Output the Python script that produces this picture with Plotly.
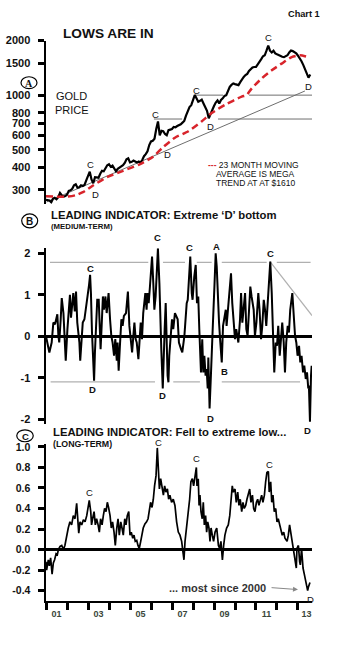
import math
import plotly.graph_objects as go

# ---------------- DATA ----------------
# Gold price, monthly (Jan 2001 .. Aug 2013), US$/oz
gold_price = [
    264, 262, 262, 256, 268, 271, 266, 273, 288, 280, 275, 277,
    282, 296, 298, 304, 318, 322, 308, 310, 318, 315, 319, 338,
    362, 378, 342, 326, 352, 352, 350, 368, 382, 380, 392, 410,
    415, 402, 408, 395, 380, 392, 398, 404, 410, 422, 442, 448,
    425, 428, 435, 430, 425, 430, 425, 438, 460, 472, 490, 530,
    555, 560, 575, 650, 715, 600, 635, 632, 610, 600, 640, 645,
    650, 668, 665, 675, 680, 690, 705, 720, 770, 810, 860, 880,
    940, 1000, 960, 920, 930, 945, 900, 860, 820, 745, 790, 840,
    870, 910, 935, 900, 940, 960, 990, 1000, 1060, 1110, 1140, 1160,
    1150, 1140, 1135, 1180, 1230, 1260, 1290, 1310, 1360, 1400, 1420, 1430,
    1432, 1480, 1520, 1580, 1640, 1660, 1760, 1880, 1760, 1720, 1760, 1700,
    1680, 1660, 1650, 1630, 1620, 1640, 1660, 1720, 1762, 1750, 1730, 1700,
    1650, 1600, 1540, 1470, 1400, 1320, 1250, 1300,
]
gold_years = [2001 + i / 12 for i in range(len(gold_price))]

# 23-month moving average
ma_years = [2001.0, 2001.5, 2002.0, 2002.4, 2002.76, 2003.24, 2003.9, 2004.67, 2005.48,
            2006.1, 2006.57, 2007.14, 2007.78, 2008.41, 2008.89, 2009.52, 2010.32,
            2010.55, 2010.8, 2011.27, 2011.75, 2012.22, 2012.7, 2013.1, 2013.57]
ma_values = [276, 275, 275, 280, 291, 317, 352, 382, 416,
             457, 515, 582, 632, 716, 796, 883, 981,
             1000, 1090, 1236, 1371, 1493, 1622, 1660, 1610]

# Medium-term leading indicator
medium = [
    (2001.00, 0.00), (2001.03, -0.07), (2001.16, -0.39), (2001.27, -0.15), (2001.35, 0.33),
    (2001.43, 0.29), (2001.54, 0.53), (2001.59, 0.01), (2001.63, -0.15), (2001.70, 0.41),
    (2001.75, 0.92), (2001.83, 0.56), (2001.87, 0.17), (2001.94, -0.59), (2002.02, 0.17),
    (2002.08, 0.64), (2002.14, 1.00), (2002.19, 0.45), (2002.30, 1.04), (2002.37, 0.60),
    (2002.43, 1.08), (2002.49, 0.33), (2002.59, -0.15), (2002.63, -0.59), (2002.70, 0.01),
    (2002.75, 0.33), (2002.83, 0.41), (2002.90, 0.64), (2002.98, 0.96), (2003.05, 1.24),
    (2003.10, 1.48), (2003.14, 1.04), (2003.19, 0.09), (2003.24, -0.55), (2003.29, -1.07),
    (2003.33, -0.39), (2003.38, 0.25), (2003.44, 0.88), (2003.51, 0.88), (2003.56, 0.25),
    (2003.60, -0.31), (2003.65, 0.25), (2003.71, 0.96), (2003.76, 0.64), (2003.83, 0.96),
    (2003.89, 0.56), (2003.98, 1.04), (2004.05, 0.41), (2004.11, 0.01), (2004.17, -0.15),
    (2004.24, -0.47), (2004.30, -0.07), (2004.37, -0.59), (2004.41, -0.15), (2004.46, -0.83),
    (2004.52, -0.23), (2004.59, 0.41), (2004.65, 0.25), (2004.71, 0.49), (2004.81, 0.56),
    (2004.90, 1.08), (2004.97, 0.25), (2005.03, -0.15), (2005.10, -0.39), (2005.16, 0.01),
    (2005.21, 0.33), (2005.27, -0.07), (2005.32, -0.15), (2005.40, -0.55), (2005.44, -0.15),
    (2005.51, 0.33), (2005.57, -0.07), (2005.63, 0.56), (2005.73, 1.04), (2005.79, 0.64),
    (2005.83, 1.04), (2005.89, 0.80), (2005.95, 1.20), (2006.00, 1.60), (2006.05, 1.92),
    (2006.11, 1.28), (2006.16, 0.64), (2006.22, 0.96), (2006.29, 1.76), (2006.33, 2.12),
    (2006.40, 1.28), (2006.43, 0.64), (2006.46, 0.01), (2006.49, -0.31), (2006.56, -1.26),
    (2006.60, -0.39), (2006.65, 0.17), (2006.70, 0.80), (2006.75, -0.39), (2006.79, -0.95),
    (2006.83, -1.11), (2006.87, -0.47), (2006.94, 0.01), (2007.00, 0.41), (2007.06, 0.17),
    (2007.14, 0.56), (2007.27, 0.41), (2007.33, -0.15), (2007.43, -0.31), (2007.49, -0.39),
    (2007.59, 0.01), (2007.70, 0.80), (2007.75, 0.88), (2007.81, 1.36), (2007.87, 1.92),
    (2007.94, 1.04), (2007.98, 0.88), (2008.06, 1.44), (2008.13, 1.72), (2008.19, 0.80),
    (2008.25, 0.96), (2008.30, 0.17), (2008.38, -0.87), (2008.44, -0.07), (2008.49, -0.87),
    (2008.54, -0.47), (2008.60, -0.95), (2008.65, -0.79), (2008.70, -1.26), (2008.73, -0.51),
    (2008.79, -1.74), (2008.84, -1.11), (2008.89, -0.15), (2008.95, 0.33), (2009.02, 1.20),
    (2009.08, 2.00), (2009.13, 1.68), (2009.17, 0.96), (2009.24, 0.33), (2009.29, -0.07),
    (2009.37, -0.63), (2009.43, 0.25), (2009.49, 0.41), (2009.56, 0.64), (2009.60, 0.25),
    (2009.68, 0.80), (2009.81, 1.52), (2009.87, 0.80), (2009.94, 0.33), (2010.00, -0.07),
    (2010.06, 0.17), (2010.16, -0.15), (2010.24, 0.41), (2010.29, 1.04), (2010.35, 0.33),
    (2010.40, 0.64), (2010.48, 1.04), (2010.54, 0.17), (2010.60, 0.01), (2010.67, 0.64),
    (2010.73, 1.20), (2010.79, 0.96), (2010.89, 0.64), (2010.95, 0.01), (2011.02, 0.33),
    (2011.11, 1.04), (2011.17, 0.64), (2011.24, -0.07), (2011.30, 0.25), (2011.37, 0.88),
    (2011.43, 0.64), (2011.49, 0.25), (2011.57, 1.04), (2011.68, 1.80), (2011.75, 1.04),
    (2011.79, 0.25), (2011.87, -0.87), (2011.94, -0.15), (2012.00, -0.23), (2012.06, 0.25),
    (2012.13, -0.47), (2012.19, -0.07), (2012.25, 0.33), (2012.32, -0.15), (2012.38, -0.87),
    (2012.44, -0.15), (2012.51, 0.25), (2012.57, 0.09), (2012.63, 0.64), (2012.73, 1.04),
    (2012.79, 0.64), (2012.86, 0.01), (2012.92, -0.15), (2012.98, -0.47), (2013.05, -0.23),
    (2013.11, -0.63), (2013.17, -0.47), (2013.24, -0.87), (2013.30, -0.71), (2013.37, -1.03),
    (2013.43, -0.87), (2013.49, -1.26), (2013.52, -1.19), (2013.57, -2.06), (2013.62, -0.95),
    (2013.65, -0.71),
]
medium_years = [p[0] for p in medium]
medium_values = [p[1] for p in medium]

# Long-term leading indicator
long_term = [
    (2001.00, -0.12), (2001.03, -0.20), (2001.11, -0.10), (2001.16, -0.16), (2001.22, -0.08),
    (2001.29, -0.24), (2001.35, -0.13), (2001.41, -0.10), (2001.48, -0.04), (2001.54, -0.05),
    (2001.59, 0.00), (2001.67, 0.03), (2001.75, 0.04), (2001.83, 0.00), (2001.90, 0.04),
    (2001.98, 0.14), (2002.06, 0.21), (2002.14, 0.27), (2002.22, 0.24), (2002.30, 0.33),
    (2002.38, 0.30), (2002.46, 0.45), (2002.51, 0.33), (2002.56, 0.16), (2002.62, 0.27),
    (2002.70, 0.24), (2002.78, 0.29), (2002.86, 0.27), (2002.94, 0.33), (2003.02, 0.43),
    (2003.06, 0.48), (2003.13, 0.37), (2003.17, 0.24), (2003.22, 0.30), (2003.29, 0.37),
    (2003.35, 0.24), (2003.41, 0.30), (2003.48, 0.24), (2003.54, 0.17), (2003.60, 0.30),
    (2003.67, 0.24), (2003.73, 0.33), (2003.79, 0.40), (2003.86, 0.37), (2003.92, 0.46),
    (2003.98, 0.41), (2004.05, 0.33), (2004.11, 0.21), (2004.17, 0.27), (2004.24, 0.17),
    (2004.30, 0.04), (2004.37, 0.21), (2004.43, 0.30), (2004.49, 0.14), (2004.56, 0.27),
    (2004.62, 0.21), (2004.68, 0.14), (2004.75, 0.30), (2004.81, 0.24), (2004.87, 0.33),
    (2004.94, 0.37), (2005.00, 0.14), (2005.06, 0.17), (2005.13, 0.11), (2005.19, 0.14),
    (2005.25, 0.08), (2005.32, 0.09), (2005.38, 0.04), (2005.44, 0.01), (2005.51, 0.08),
    (2005.57, 0.14), (2005.63, 0.21), (2005.71, 0.25), (2005.79, 0.27), (2005.86, 0.30),
    (2005.92, 0.40), (2005.98, 0.46), (2006.05, 0.41), (2006.11, 0.49), (2006.17, 0.62),
    (2006.24, 0.72), (2006.30, 0.99), (2006.35, 0.78), (2006.40, 0.59), (2006.46, 0.69),
    (2006.52, 0.62), (2006.59, 0.53), (2006.65, 0.62), (2006.71, 0.56), (2006.78, 0.59),
    (2006.84, 0.49), (2006.90, 0.53), (2006.98, 0.46), (2007.06, 0.49), (2007.14, 0.43),
    (2007.22, 0.27), (2007.30, 0.17), (2007.38, 0.14), (2007.46, 0.08), (2007.52, -0.02),
    (2007.57, -0.10), (2007.62, 0.08), (2007.67, 0.17), (2007.71, 0.30), (2007.78, 0.40),
    (2007.84, 0.49), (2007.90, 0.66), (2007.97, 0.69), (2008.03, 0.62), (2008.10, 0.75),
    (2008.16, 0.80), (2008.19, 0.62), (2008.25, 0.69), (2008.29, 0.43), (2008.33, 0.53),
    (2008.38, 0.37), (2008.44, 0.30), (2008.49, 0.46), (2008.54, 0.24), (2008.60, 0.33),
    (2008.65, 0.17), (2008.70, 0.27), (2008.76, 0.21), (2008.81, 0.08), (2008.86, 0.21),
    (2008.92, 0.14), (2008.98, 0.08), (2009.05, 0.17), (2009.13, 0.21), (2009.21, 0.04),
    (2009.27, 0.01), (2009.33, 0.08), (2009.40, -0.10), (2009.46, 0.04), (2009.52, 0.14),
    (2009.60, 0.21), (2009.68, 0.24), (2009.75, 0.33), (2009.81, 0.46), (2009.87, 0.62),
    (2009.92, 0.56), (2010.00, 0.59), (2010.06, 0.46), (2010.13, 0.56), (2010.19, 0.43),
    (2010.25, 0.49), (2010.32, 0.37), (2010.38, 0.46), (2010.44, 0.40), (2010.51, 0.43),
    (2010.57, 0.49), (2010.63, 0.53), (2010.70, 0.59), (2010.76, 0.46), (2010.83, 0.53),
    (2010.89, 0.40), (2010.95, 0.37), (2011.02, 0.46), (2011.08, 0.49), (2011.14, 0.43),
    (2011.21, 0.49), (2011.27, 0.53), (2011.33, 0.46), (2011.40, 0.53), (2011.46, 0.66),
    (2011.52, 0.75), (2011.59, 0.76), (2011.63, 0.56), (2011.70, 0.66), (2011.75, 0.46),
    (2011.81, 0.53), (2011.87, 0.37), (2011.94, 0.40), (2012.00, 0.27), (2012.06, 0.30),
    (2012.13, 0.24), (2012.19, 0.21), (2012.25, 0.14), (2012.32, 0.17), (2012.38, 0.11),
    (2012.48, 0.08), (2012.54, 0.14), (2012.60, 0.24), (2012.67, 0.14), (2012.73, 0.08),
    (2012.79, 0.01), (2012.86, -0.08), (2012.92, -0.18), (2012.95, 0.01), (2013.02, 0.04),
    (2013.08, -0.12), (2013.11, -0.15), (2013.17, 0.01), (2013.24, -0.18), (2013.30, -0.24),
    (2013.37, -0.31), (2013.43, -0.34), (2013.46, -0.40), (2013.49, -0.37), (2013.52, -0.34),
    (2013.57, -0.32),
]
long_years = [p[0] for p in long_term]
long_values = [p[1] for p in long_term]

# Axis ticks
gold_ticks = [300, 400, 500, 600, 700, 800, 1000, 1500, 2000]
medium_ticks = [-2, -1, 0, 1, 2]
long_ticks = [-0.4, -0.2, 0.0, 0.2, 0.4, 0.6, 0.8, 1.0]
long_tick_text = ["-0.4", "-0.2", "0.0", "0.2", "0.4", "0.6", "0.8", "1.0"]
year_ticks = list(range(2001, 2014))
year_label_pos = [2001.5, 2003.5, 2005.5, 2007.5, 2009.5, 2011.5, 2013.4]
year_labels = ["01", "03", "05", "07", "09", "11", "13"]

# Reference (trend / support) lines
gold_trend_years = [2001.03, 2013.33]
gold_trend_values = [257, 1054]
gold_level_hi = 1000
gold_level_hi_segments = [(2008.05, 2009.43), (2010.67, 2013.667)]
gold_level_lo = 738
gold_level_lo_segments = [(2006.14, 2007.48), (2009.19, 2013.667)]
medium_level_hi = 1.78
medium_level_hi_segments = [(2001.19, 2005.87), (2006.57, 2007.62), (2008.18, 2008.89),
                            (2009.37, 2011.51), (2011.99, 2013.6)]
medium_level_lo = -1.10
medium_level_lo_segments = [(2001.22, 2006.19), (2007.06, 2008.33), (2009.37, 2013.1)]
medium_trend_years = [2011.67, 2013.667]
medium_trend_values = [1.80, 0.50]

# ---------------- LAYOUT HELPERS ----------------
W, H = 357, 648
ML, MR = 46, 45
PW = W - ML - MR
X_RANGE = [2001.0, 2013.667]
FONT = "Liberation Sans, Arial, sans-serif"
NARROW = "Liberation Sans Narrow, Arial Narrow, Liberation Sans, Arial, sans-serif"


def paper_x(p):
    return (p - ML) / PW


def paper_y(p):
    return 1 - p / H


def segs(segments, level):
    xs, ys = [], []
    for a, b in segments:
        xs += [a, b, None]
        ys += [level, level, None]
    return xs, ys


fig = go.Figure()

GRAY = "#6e6e6e"
LGRAY = "#b0b0b0"

# ---- top panel ----
fig.add_trace(go.Scatter(x=gold_trend_years, y=gold_trend_values, mode="lines",
                         line=dict(color=GRAY, width=1), yaxis="y"))
xs, ys = segs(gold_level_hi_segments, gold_level_hi)
fig.add_trace(go.Scatter(x=xs, y=ys, mode="lines", line=dict(color=GRAY, width=1), yaxis="y"))
xs, ys = segs(gold_level_lo_segments, gold_level_lo)
fig.add_trace(go.Scatter(x=xs, y=ys, mode="lines", line=dict(color=GRAY, width=1), yaxis="y"))
fig.add_trace(go.Scatter(x=gold_years, y=gold_price, mode="lines",
                         line=dict(color="black", width=2.2), yaxis="y"))
fig.add_trace(go.Scatter(x=ma_years, y=ma_values, mode="lines",
                         line=dict(color="#d8242b", width=2.5, dash="7px,4px",
                                   shape="spline", smoothing=0.6), yaxis="y"))

# ---- middle panel ----
xs, ys = segs(medium_level_hi_segments, medium_level_hi)
fig.add_trace(go.Scatter(x=xs, y=ys, mode="lines", line=dict(color=LGRAY, width=1.2), yaxis="y2"))
xs, ys = segs(medium_level_lo_segments, medium_level_lo)
fig.add_trace(go.Scatter(x=xs, y=ys, mode="lines", line=dict(color=LGRAY, width=1.2), yaxis="y2"))
fig.add_trace(go.Scatter(x=medium_trend_years, y=medium_trend_values, mode="lines",
                         line=dict(color=LGRAY, width=1.2), yaxis="y2"))
fig.add_trace(go.Scatter(x=medium_years, y=medium_values, mode="lines",
                         line=dict(color="black", width=2), yaxis="y2"))

# ---- bottom panel ----
fig.add_trace(go.Scatter(x=long_years, y=long_values, mode="lines",
                         line=dict(color="black", width=1.7), yaxis="y3"))

axis_common = dict(showgrid=False, showline=True, linecolor="black", linewidth=2.5,
                   ticks="outside", ticklen=6, tickwidth=3, tickcolor="black",
                   ticklabelstandoff=5, fixedrange=True, anchor="x")

fig.update_layout(
    width=W, height=H,
    margin=dict(l=ML, r=MR, t=0, b=0),
    paper_bgcolor="white", plot_bgcolor="white",
    showlegend=False, hovermode=False,
    font=dict(family=FONT, color="#111"),
    xaxis=dict(domain=[0, 1], range=X_RANGE, anchor="y3", showgrid=False, zeroline=False,
               showline=True, linecolor="black", linewidth=2,
               tickmode="array", tickvals=year_label_pos, ticktext=year_labels, ticks="",
               ticklabelstandoff=3,
               tickfont=dict(family=FONT, size=9, color="#3a463a", weight="bold"),
               minor=dict(tickmode="array", tickvals=year_ticks, ticks="outside",
                          ticklen=7, tickwidth=3, tickcolor="black", showgrid=False),
               fixedrange=True),
    yaxis=dict(domain=[paper_y(200), paper_y(35)], type="log",
               range=[math.log10(251), math.log10(2000)],
               tickmode="array", tickvals=gold_ticks, ticktext=[str(t) for t in gold_ticks],
               tickfont=dict(family=FONT, size=11, color="#111", weight="bold"),
               zeroline=False, **axis_common),
    yaxis2=dict(domain=[paper_y(423), paper_y(245)], range=[-2.126, 2.12],
                tickmode="array", tickvals=medium_ticks, ticktext=[str(t) for t in medium_ticks],
                tickfont=dict(family=FONT, size=11, color="#111", weight="bold"),
                zeroline=True, zerolinecolor="black", zerolinewidth=2.5, **axis_common),
    yaxis3=dict(domain=[paper_y(602), paper_y(443)], range=[-0.506, 1.026],
                tickmode="array", tickvals=long_ticks, ticktext=long_tick_text,
                tickfont=dict(family=FONT, size=10.5, color="#111", weight="bold"),
                zeroline=True, zerolinecolor="black", zerolinewidth=2.5, **axis_common),
)

ann = []


def ptext(text, xp, yp, size, xanchor="left", family=FONT, color="#111"):
    ann.append(dict(text=text, x=paper_x(xp), y=paper_y(yp), xref="paper", yref="paper",
                    showarrow=False, xanchor=xanchor, yanchor="middle",
                    font=dict(family=family, size=size, color=color)))


# peak / trough letters (positions in page pixels)
for t, xp, yp in [("C", 90, 160), ("D", 95.7, 190.7), ("C", 155.7, 109.3), ("D", 167, 150),
                  ("C", 196.7, 85), ("D", 210, 122.3), ("C", 268.7, 32.3), ("D", 308.3, 81.3)]:
    ptext(t, xp, yp, 9.5, xanchor="center")
for t, xp, yp in [("C", 90.7, 265), ("D", 92.7, 387.7), ("C", 157.3, 234.3), ("D", 162.3, 394),
                  ("C", 189.3, 244), ("A", 216, 242.7), ("B", 224.3, 369.3), ("D", 210.7, 416.7),
                  ("C", 270, 250), ("D", 307.3, 429)]:
    ptext("<b>%s</b>" % t, xp, yp, 9.5, xanchor="center")
for t, xp, yp in [("C", 89, 491.7), ("C", 158.3, 441), ("C", 196.7, 457.7), ("C", 269, 464),
                  ("D", 310.7, 600)]:
    ptext(t, xp, yp, 9.5, xanchor="center")

ptext("<b>Chart 1</b>", 304, 8, 9.2, xanchor="center")
ptext("<b>LOWS ARE IN</b>", 61, 28, 13.7)
ptext("GOLD", 54, 91, 11)
ptext("PRICE", 53, 105, 11)
ptext("<span style='color:#d8242b'><b>---</b></span> 23 MONTH MOVING", 206, 161, 8.5, family=NARROW)
ptext("AVERAGE IS MEGA", 214, 169.5, 8.5, family=NARROW)
ptext("TREND AT AT $1610", 214, 178.5, 8.5, family=NARROW)
ptext("<b>LEADING INDICATOR: Extreme \u2018D\u2019 bottom</b>", 49, 211, 11.3)
ptext("<b>(MEDIUM-TERM)</b>", 49, 223, 7.8)
ptext("<b>LEADING INDICATOR: Fell to extreme low...</b>", 50.7, 431, 11.3)
ptext("<b>(LONG-TERM)</b>", 50.7, 443, 8.8)
ptext("<b>... most since 2000</b>", 166.7, 588.5, 11, color="#333")

# arrow in bottom panel
ann.append(dict(text="", x=2013.0, y=-0.39, xref="x", yref="y3", ax=2011.67, ay=-0.37,
                axref="x", ayref="y3", showarrow=True, arrowhead=2, arrowsize=1,
                arrowwidth=1, arrowcolor="#888"))

# circled panel letters
shapes = []
for letter, cx, cy, w, h, fam, fs in [("A", 29, 77.5, 16, 12, "Liberation Serif, Times New Roman, serif", 10),
                                      ("B", 29.7, 217.2, 16, 14, FONT, 10),
                                      ("C", 25, 434.5, 16.5, 12, FONT, 9.5)]:
    shapes.append(dict(type="circle", xref="paper", yref="paper",
                       x0=paper_x(cx - w / 2), x1=paper_x(cx + w / 2),
                       y0=paper_y(cy + h / 2), y1=paper_y(cy - h / 2),
                       line=dict(color="black", width=1.2)))
    ptext("<b>%s</b>" % letter, cx, cy + 0.5, fs, xanchor="center", family=fam)

fig.update_layout(annotations=ann, shapes=shapes)

fig.write_html(
    "out.html",
    config={"displayModeBar": False, "staticPlot": True},
    post_script=(
        "document.documentElement.style.margin='0';"
        "document.documentElement.style.padding='0';"
        "document.documentElement.style.overflow='hidden';"
        "document.body.style.margin='0';document.body.style.padding='0';"
        "document.body.style.overflow='hidden';"
        "var gd=document.getElementById('{plot_id}');"
        "gd.style.position='absolute';gd.style.top='0px';gd.style.left='0px';"
    ),
)
